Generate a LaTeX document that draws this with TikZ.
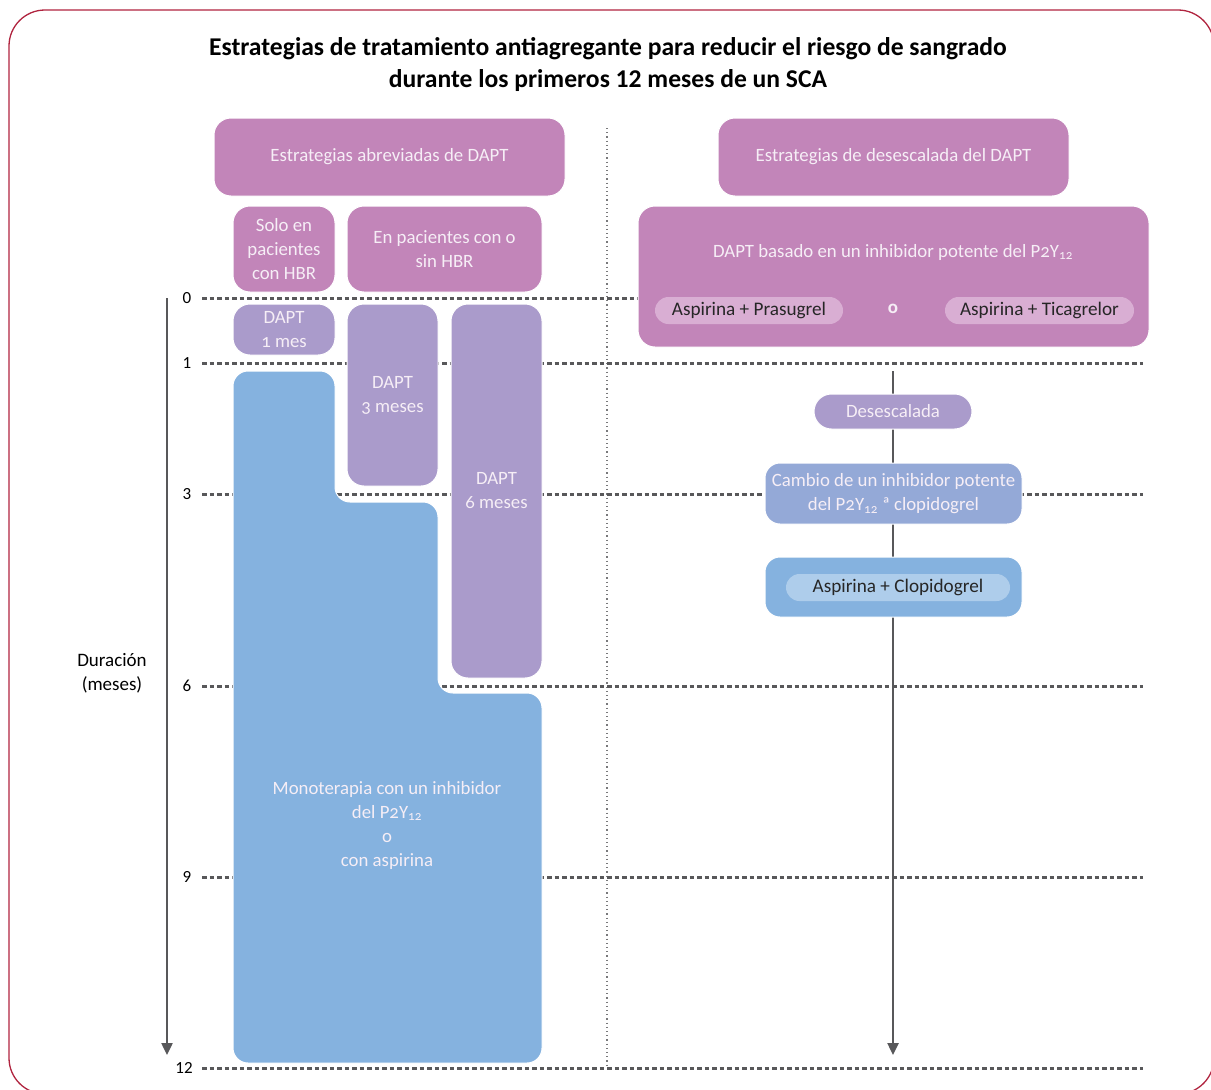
\documentclass[tikz,border=0pt]{standalone}
\usepackage{fontspec}
\setmainfont{Carlito}[Numbers=OldStyle]
\usetikzlibrary{arrows.meta}

\definecolor{mauve}{HTML}{C285B9}
\definecolor{lav}{HTML}{AA9BCB}
\definecolor{skyblue}{HTML}{85B2DF}
\definecolor{peri}{HTML}{94A9D7}
\definecolor{pinkpill}{HTML}{D9AED3}
\definecolor{bluepill}{HTML}{AECDEB}
\definecolor{frame}{HTML}{B0243F}
\definecolor{ink}{HTML}{58585A}
\definecolor{boxtext}{HTML}{F6EEF6}

\tikzset{
  box/.style={rectangle, rounded corners=17pt, draw=white, line width=1pt,
    align=center, text=boxtext, inner sep=0pt,
    font=\fontsize{18.8}{24}\selectfont},
  headbox/.style={box, fill=mauve},
  daptbox/.style={box, fill=lav},
  pill/.style={rectangle, rounded corners=13.5pt, inner sep=0pt,
    minimum height=27pt, text=black!85, font=\fontsize{19.2}{22}\selectfont},
  gridline/.style={draw=ink, line width=3pt, dash pattern=on 4.5pt off 3pt},
  tick/.style={font=\addfontfeatures{Numbers=Lining}\fontsize{17}{20}\selectfont, text=black},
  timearrow/.style={draw=ink, line width=2.4pt, -{Triangle[length=12pt,width=11pt]}},
}

\begin{document}
\begin{tikzpicture}[x=1pt, y=-1pt]
\useasboundingbox (0,0) rectangle (1211,1090);

% outer frame
\draw[frame, line width=1.3pt, rounded corners=36pt] (9,10) rectangle (1214,1094);

% title
\node[align=center, font=\bfseries\addfontfeatures{Numbers=Lining}\fontsize{25.6}{32}\selectfont]
  (title) at (608,65)
  {Estrategias de tratamiento antiagregante para reducir el riesgo de sangrado\\
   durante los primeros 12 meses de un SCA};

% column separator
\draw[ink!80, line width=1.2pt, dash pattern=on 1.2pt off 3pt] (607,128) -- (607,1068);

% month grid
\foreach \m/\y in {0/298, 1/363, 3/494, 6/686, 9/877} {
  \node[tick] (t\m) at (187,\y) {\m};
  \draw[gridline] (202,\y) -- (1143,\y);
}
\node[tick] (t12) at (184,1068) {12};
\draw[gridline] (202,1068) -- (1143,1068);

% duration axis
\coordinate (axtop) at (167,298);
\coordinate (axbot) at (167,1055);
\draw[timearrow] (axtop) -- (axbot);
\node[align=center, font=\fontsize{19}{24}\selectfont] (dur) at (112,673) {Duración\\(meses)};

% left column: shortened DAPT
\node[headbox, minimum width=351pt, minimum height=78pt] (shorthead) at (389.5,157)
  {Estrategias abreviadas de DAPT};
\node[headbox, minimum width=102pt, minimum height=86pt] (hbr) at (284,249)
  {Solo en\\pacientes\\con HBR};
\node[headbox, minimum width=195pt, minimum height=86pt] (anyhbr) at (444.5,249)
  {En pacientes con o\\sin HBR};

\node[daptbox, minimum width=102pt, minimum height=51pt] (d1) at (284,329.5)
  {DAPT\\1 mes};
\node[daptbox, minimum width=91pt, minimum height=182pt] (d3) at (392.5,395)
  {DAPT\\3 meses};
\node[daptbox, minimum width=91pt, minimum height=374pt] (d6) at (496.5,491)
  {DAPT\\6 meses};

% monotherapy block (stepped outline)
\fill[skyblue, draw=white, line width=1pt, rounded corners=15pt]
  (233,371) -- (335,371) -- (335,502) -- (438,502) -- (438,693)
  -- (542,693) -- (542,1063) -- (233,1063) -- cycle;
\node[align=center, text=boxtext, font=\fontsize{18.8}{24}\selectfont] (mono) at (387,825)
  {Monoterapia con un inhibidor\\del P2Y\textsubscript{12}\\o\\con aspirina};

% right column: de-escalation
\node[headbox, minimum width=351pt, minimum height=78pt] (deschead) at (893.5,157)
  {Estrategias de desescalada del DAPT};
\node[headbox, minimum width=511pt, minimum height=141pt] (potent) at (893.5,276.5) {};
\node[text=boxtext, font=\fontsize{18.8}{24}\selectfont] (potentlbl) at (893,252)
  {DAPT basado en un inhibidor potente del P2Y\textsubscript{12}};
\node[pill, fill=pinkpill, minimum width=188pt] (prasu) at (749,310.5)
  {Aspirina + Prasugrel};
\node[text=boxtext, font=\bfseries\fontsize{19}{22}\selectfont] (orlbl) at (893,309) {o};
\node[pill, fill=pinkpill, minimum width=189pt] (tica) at (1039.5,310.5)
  {Aspirina + Ticagrelor};

\coordinate (desctop) at (893,371);
\coordinate (descbot) at (893,1055);
\draw[timearrow] (desctop) -- (descbot);

\node[box, fill=lav, rounded corners=17.5pt, minimum width=158pt, minimum height=35pt]
  (desc) at (893,411.5) {Desescalada};
\node[box, fill=peri, rounded corners=15pt, minimum width=257pt, minimum height=61pt]
  (switch) at (893.5,493.5)
  {Cambio de un inhibidor potente\\del P2Y\textsubscript{12} ª clopidogrel};
\node[box, fill=skyblue, rounded corners=15pt, minimum width=257pt, minimum height=60pt]
  (clopibox) at (893.5,587) {};
\node[pill, fill=bluepill, minimum width=224pt] (clopi) at (898,587.5)
  {Aspirina + Clopidogrel};
\end{tikzpicture}
\end{document}
